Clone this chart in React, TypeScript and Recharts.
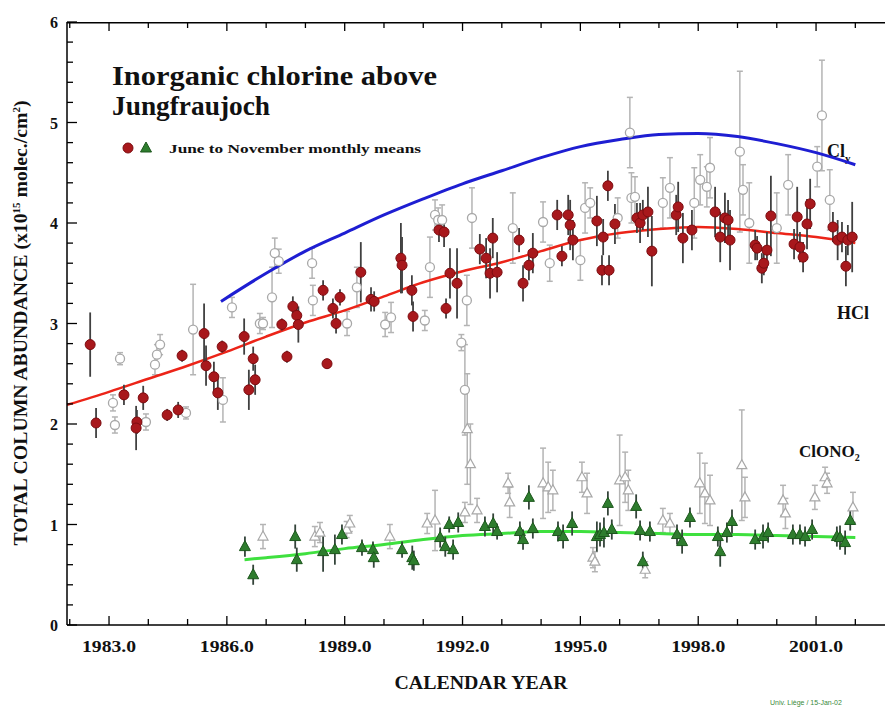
import {
  ComposedChart,
  ErrorBar,
  Line,
  Scatter,
  XAxis,
  YAxis,
} from "recharts";

// [year, column (1e15 molec/cm2), error]
const hclMeans: [number, number, number][] = [
  [1982.52, 2.79, 0.32], [1982.67, 2.01, 0.15], [1983.38, 2.29, 0.1], [1983.71, 2.02, 0.12],
  [1983.69, 1.96, 0.22], [1983.87, 2.26, 0.12], [1984.48, 2.09, 0.06], [1984.76, 2.14, 0.08],
  [1984.86, 2.68, 0.06], [1985.42, 2.9, 0.3], [1985.47, 2.58, 0.2], [1985.67, 2.47, 0.15],
  [1985.77, 2.31, 0.17], [1985.88, 2.77, 0.06], [1986.44, 2.87, 0.18], [1986.56, 2.34, 0.2],
  [1986.67, 2.65, 0.12], [1986.72, 2.44, 0.15], [1987.4, 2.99, 0.06], [1987.53, 2.67, 0.06],
  [1987.68, 3.17, 0.1], [1987.78, 3.08, 0.1], [1987.82, 2.99, 0.18], [1988.45, 3.33, 0.1],
  [1988.55, 2.6, 0.05], [1988.7, 3.15, 0.1], [1988.78, 3.0, 0.1], [1988.88, 3.26, 0.08],
  [1989.41, 3.51, 0.3], [1989.67, 3.24, 0.12], [1989.75, 3.22, 0.1], [1990.43, 3.65, 0.35],
  [1990.46, 3.58, 0.28], [1990.71, 3.33, 0.15], [1990.74, 3.07, 0.15], [1991.4, 3.93, 0.12],
  [1991.53, 3.91, 0.15], [1991.58, 3.15, 0.1], [1991.68, 3.5, 0.25], [1991.86, 3.4, 0.35],
  [1992.44, 3.74, 0.15], [1992.6, 3.65, 0.2], [1992.77, 3.85, 0.2], [1992.7, 3.5, 0.25],
  [1992.88, 3.51, 0.2], [1993.44, 3.83, 0.12], [1993.54, 3.4, 0.18], [1993.69, 3.58, 0.15],
  [1993.79, 3.7, 0.2], [1994.41, 4.08, 0.15], [1994.53, 3.67, 0.1], [1994.69, 4.08, 0.2],
  [1994.74, 3.98, 0.25], [1994.81, 3.83, 0.2], [1995.42, 4.02, 0.25], [1995.55, 3.53, 0.15],
  [1995.58, 3.86, 0.18], [1995.73, 3.53, 0.15], [1995.7, 4.37, 0.15], [1995.88, 3.99, 0.2],
  [1996.44, 4.05, 0.15], [1996.52, 4.0, 0.2], [1996.59, 4.08, 0.15], [1996.72, 4.11, 0.25],
  [1996.82, 3.72, 0.35], [1997.44, 4.08, 0.2], [1997.49, 4.16, 0.25], [1997.61, 3.85, 0.25],
  [1997.84, 3.93, 0.2], [1998.43, 4.11, 0.25], [1998.56, 3.86, 0.25], [1998.68, 4.05, 0.25],
  [1998.76, 4.03, 0.2], [1998.81, 3.83, 0.3], [1999.45, 3.78, 0.15], [1999.5, 3.75, 0.12],
  [1999.62, 3.55, 0.15], [1999.67, 3.6, 0.12], [1999.75, 3.73, 0.18], [1999.85, 4.07, 0.4],
  [2000.44, 3.79, 0.15], [2000.52, 4.06, 0.3], [2000.59, 3.76, 0.15], [2000.67, 3.66, 0.15],
  [2000.77, 3.99, 0.25], [2000.85, 4.19, 0.25], [2001.43, 3.96, 0.15], [2001.55, 3.83, 0.2],
  [2001.66, 3.86, 0.15], [2001.76, 3.57, 0.2], [2001.81, 3.83, 0.15], [2001.92, 3.86, 0.35],
];

const hclOther: [number, number, number][] = [
  [1983.1, 2.21, 0.08], [1983.15, 1.99, 0.08], [1983.28, 2.65, 0.06], [1983.94, 2.02, 0.08],
  [1984.17, 2.59, 0.1], [1984.22, 2.69, 0.1], [1984.3, 2.79, 0.1], [1984.96, 2.11, 0.06],
  [1985.14, 2.94, 0.45], [1985.9, 2.24, 0.22], [1986.13, 3.16, 0.1], [1986.84, 3.0, 0.1],
  [1986.92, 3.0, 0.06], [1987.15, 3.26, 0.3], [1987.22, 3.7, 0.15], [1987.32, 3.62, 0.12],
  [1988.17, 3.6, 0.15], [1988.19, 3.23, 0.15], [1989.06, 3.0, 0.12], [1989.31, 3.36, 0.2],
  [1990.03, 2.99, 0.12], [1990.18, 3.06, 0.15], [1991.04, 3.03, 0.1], [1991.17, 3.56, 0.3],
  [1991.3, 4.08, 0.15], [1991.38, 4.03, 0.12], [1991.48, 4.03, 0.15], [1991.97, 2.81, 0.08],
  [1992.06, 2.34, 0.45], [1992.11, 3.23, 0.25], [1992.24, 4.05, 0.3], [1993.28, 3.95, 0.35],
  [1994.05, 4.01, 0.2], [1994.22, 3.6, 0.18], [1995.0, 3.63, 0.2], [1995.12, 4.15, 0.25],
  [1995.25, 4.2, 0.15], [1995.95, 4.05, 0.2], [1996.26, 4.9, 0.35], [1996.3, 4.25, 0.25],
  [1996.39, 4.26, 0.2], [1997.1, 4.2, 0.25], [1997.28, 4.35, 0.3], [1997.9, 4.2, 0.35],
  [1998.05, 4.43, 0.25], [1998.22, 4.36, 0.2], [1998.3, 4.55, 0.3], [1999.06, 4.71, 0.8],
  [1999.14, 4.33, 0.25], [1999.3, 4.0, 0.4], [2000.0, 3.95, 0.35], [2000.29, 4.38, 0.3],
  [2001.03, 4.56, 0.2], [2001.15, 5.07, 0.55], [2001.35, 4.23, 0.3],
];

const clono2Means: [number, number, number][] = [
  [1986.46, 0.78, 0.1], [1986.67, 0.5, 0.1], [1987.74, 0.88, 0.12], [1987.78, 0.65, 0.12],
  [1988.45, 0.73, 0.2], [1988.75, 0.75, 0.15], [1988.93, 0.9, 0.1], [1989.44, 0.77, 0.08],
  [1989.72, 0.75, 0.08], [1989.74, 0.67, 0.1], [1990.46, 0.75, 0.08], [1990.72, 0.67, 0.12],
  [1990.76, 0.64, 0.1], [1991.43, 0.87, 0.1], [1991.56, 0.78, 0.1], [1991.66, 1.0, 0.08],
  [1991.76, 0.75, 0.1], [1991.89, 1.02, 0.1], [1992.57, 0.98, 0.1], [1992.78, 1.01, 0.1],
  [1992.88, 0.93, 0.08], [1993.46, 0.93, 0.1], [1993.54, 0.85, 0.1], [1993.69, 1.27, 0.12],
  [1993.79, 0.96, 0.1], [1994.43, 0.93, 0.1], [1994.56, 0.88, 0.12], [1994.79, 1.01, 0.12],
  [1995.42, 0.88, 0.15], [1995.5, 0.9, 0.12], [1995.6, 0.92, 0.15], [1995.7, 1.21, 0.12],
  [1995.8, 0.95, 0.1], [1996.42, 1.18, 0.12], [1996.52, 0.94, 0.1], [1996.59, 0.63, 0.1],
  [1996.77, 0.93, 0.1], [1997.46, 0.9, 0.1], [1997.59, 0.83, 0.12], [1997.79, 1.07, 0.1],
  [1998.5, 0.88, 0.1], [1998.56, 0.73, 0.15], [1998.73, 0.92, 0.1], [1998.86, 1.03, 0.12],
  [1999.45, 0.85, 0.1], [1999.65, 0.88, 0.12], [1999.78, 0.92, 0.1], [2000.41, 0.9, 0.1],
  [2000.59, 0.9, 0.1], [2000.72, 0.88, 0.1], [2000.9, 0.95, 0.1], [2001.53, 0.88, 0.1],
  [2001.61, 0.87, 0.12], [2001.74, 0.82, 0.12], [2001.87, 1.04, 0.1],
];

const clono2Other: [number, number, number][] = [
  [1986.92, 0.88, 0.12], [1988.24, 0.88, 0.1], [1988.37, 0.92, 0.1], [1989.05, 0.95, 0.08],
  [1989.13, 1.01, 0.08], [1990.15, 0.88, 0.12], [1991.1, 1.01, 0.1], [1991.3, 1.04, 0.3],
  [1992.06, 1.12, 0.1], [1992.12, 1.95, 0.55], [1992.2, 1.6, 0.4], [1992.37, 1.14, 0.12],
  [1993.16, 1.41, 0.1], [1993.2, 1.22, 0.15], [1994.05, 1.41, 0.35], [1994.18, 1.37, 0.25],
  [1994.3, 1.34, 0.2], [1995.04, 1.47, 0.15], [1995.17, 1.31, 0.2], [1995.32, 0.67, 0.1],
  [1995.37, 0.63, 0.1], [1996.0, 1.44, 0.45], [1996.14, 1.47, 0.25], [1996.22, 1.34, 0.2],
  [1996.65, 0.55, 0.08], [1997.1, 1.04, 0.12], [1997.28, 1.01, 0.1], [1998.04, 1.41, 0.3],
  [1998.17, 1.31, 0.3], [1998.3, 1.24, 0.25], [1999.11, 1.59, 0.55], [1999.19, 1.27, 0.2],
  [2000.16, 1.24, 0.15], [2000.22, 1.11, 0.15], [2000.97, 1.27, 0.12], [2001.23, 1.47, 0.1],
  [2001.28, 1.41, 0.1], [2001.94, 1.17, 0.15],
];

// fitted curves [year, value]
const clyFit: [number, number][] = [
  [1985.85, 3.22], [1987, 3.5], [1988, 3.72], [1989, 3.9], [1990, 4.08], [1991, 4.24],
  [1992, 4.39], [1993, 4.52], [1994, 4.65], [1995, 4.76], [1996, 4.83], [1997, 4.88],
  [1998, 4.89], [1999, 4.86], [2000, 4.79], [2001, 4.7], [2002, 4.58],
];
const hclFit: [number, number][] = [
  [1981.93, 2.19], [1983, 2.32], [1984, 2.45], [1985, 2.58], [1986, 2.72], [1987, 2.87],
  [1988, 3.01], [1989, 3.13], [1990, 3.27], [1991, 3.41], [1992, 3.52], [1993, 3.61],
  [1994, 3.72], [1995, 3.83], [1996, 3.9], [1997, 3.94], [1998, 3.96], [1999, 3.94],
  [2000, 3.9], [2001, 3.86], [2002, 3.8],
];
const clono2Fit: [number, number][] = [
  [1986.45, 0.65], [1987, 0.67], [1988, 0.71], [1989, 0.76], [1990, 0.8], [1991, 0.85],
  [1992, 0.89], [1993, 0.91], [1994, 0.93], [1995, 0.93], [1996, 0.92], [1997, 0.91],
  [1998, 0.9], [1999, 0.9], [2000, 0.89], [2001, 0.88], [2002, 0.87],
];

const X_DOMAIN: [number, number] = [1981.93, 2003.01];
const Y_MAX = 6;

const yearTicks = [
  1982, 1983, 1984, 1985, 1986, 1987, 1988, 1989, 1990, 1991, 1992, 1993, 1994, 1995,
  1996, 1997, 1998, 1999, 2000, 2001, 2002,
];
const yTicks = [
  0, 0.2, 0.4, 0.6, 0.8, 1, 1.2, 1.4, 1.6, 1.8, 2, 2.2, 2.4, 2.6, 2.8, 3, 3.2, 3.4, 3.6, 3.8,
  4, 4.2, 4.4, 4.6, 4.8, 5, 5.2, 5.4, 5.6, 5.8, 6,
];

const pts = (a: [number, number, number][]) => a.map(([x, y, e]) => ({ x, y, e }));
const line = (a: [number, number][]) => a.map(([x, y]) => ({ x, y }));

// top frame of the plot and its inward year ticks
const topFrame = X_DOMAIN.map((x) => ({ x, y: Y_MAX }));
const topTicks = yearTicks.map((x) => ({ x, y: Y_MAX }));

const FONT = '"Liberation Serif", "Times New Roman", serif';
const isMajorYear = (v: number) => Math.round(v - 1983) % 3 === 0;

const BottomTick = (props: any) => {
  const { x, y, payload } = props;
  const v = payload.value;
  const major = isMajorYear(v);
  return (
    <g>
      <line x1={x} y1={y} x2={x} y2={y - (major ? 9 : 6)} stroke="#000" strokeWidth={1.3} />
      {major && (
        <text x={x} y={y + 27} textAnchor="middle" fontFamily={FONT} fontWeight="bold" fontSize={16.5} fill="#111" textLength={54} lengthAdjust="spacingAndGlyphs">
          {v.toFixed(1)}
        </text>
      )}
    </g>
  );
};

const LeftTick = (props: any) => {
  const { x, y, payload } = props;
  const v = payload.value;
  const major = Math.abs(v - Math.round(v)) < 1e-6;
  return (
    <g>
      <line x1={x} y1={y} x2={x + (major ? 10 : 6)} y2={y} stroke="#000" strokeWidth={1.3} />
      {major && (
        <text x={x - 9} y={y + 6} textAnchor="end" fontFamily={FONT} fontWeight="bold" fontSize={16} fill="#111">
          {Math.round(v)}
        </text>
      )}
    </g>
  );
};

const TopTickMark = (p: any) => (
  <line x1={p.cx} y1={p.cy} x2={p.cx} y2={p.cy + (isMajorYear(p.payload?.x ?? p.x) ? 9 : 6)} stroke="#000" strokeWidth={1.3} />
);

const RedDot = (p: any) => <circle cx={p.cx} cy={p.cy} r={5} fill="#a8181c" stroke="#7c0c10" strokeWidth={1} />;
const GreyDot = (p: any) => <circle cx={p.cx} cy={p.cy} r={4.5} fill="#fff" stroke="#a8a8a8" strokeWidth={1.3} />;
const GreenTri = (p: any) => (
  <polygon
    points={`${p.cx},${p.cy - 6} ${p.cx - 5.5},${p.cy + 4} ${p.cx + 5.5},${p.cy + 4}`}
    fill="#2e7d2e"
    stroke="#1c561c"
    strokeWidth={1}
  />
);
const GreyTri = (p: any) => (
  <polygon
    points={`${p.cx},${p.cy - 5.5} ${p.cx - 5},${p.cy + 3.5} ${p.cx + 5},${p.cy + 3.5}`}
    fill="#fff"
    stroke="#a8a8a8"
    strokeWidth={1.2}
  />
);

const bold = { fontFamily: FONT, fontWeight: "bold" as const, fill: "#111" };

export default function App() {
  return (
    <div style={{ position: "absolute", left: 0, top: 0, width: 885, height: 710, overflow: "hidden", background: "#fff" }}>
      <ComposedChart width={900} height={710} margin={{ top: 22, right: 5, bottom: 0, left: 0 }}>
        <XAxis
          dataKey="x"
          type="number"
          domain={X_DOMAIN}
          allowDataOverflow
          ticks={yearTicks}
          tick={<BottomTick />}
          tickLine={false}
          tickSize={0}
          tickMargin={0}
          height={85}
          axisLine={{ stroke: "#000", strokeWidth: 1.5 }}
        />
        <YAxis
          dataKey="y"
          type="number"
          domain={[0, Y_MAX]}
          allowDataOverflow
          ticks={yTicks}
          tick={<LeftTick />}
          tickLine={false}
          tickSize={0}
          tickMargin={0}
          width={67}
          interval={0}
          axisLine={{ stroke: "#000", strokeWidth: 1.5 }}
        />

        <Line data={topFrame} dataKey="y" stroke="#000" strokeWidth={3} dot={false} isAnimationActive={false} />
        <Scatter data={topTicks} shape={TopTickMark} isAnimationActive={false} />

        <Scatter data={pts(hclOther)} shape={GreyDot} isAnimationActive={false}>
          <ErrorBar dataKey="e" direction="y" width={3} stroke="#b4b4b4" strokeWidth={1.5} />
        </Scatter>
        <Scatter data={pts(clono2Other)} shape={GreyTri} isAnimationActive={false}>
          <ErrorBar dataKey="e" direction="y" width={3} stroke="#b4b4b4" strokeWidth={1.5} />
        </Scatter>

        <Line data={line(clyFit)} dataKey="y" type="monotone" stroke="#1e1ed2" strokeWidth={3} dot={false} isAnimationActive={false} />
        <Line data={line(hclFit)} dataKey="y" type="monotone" stroke="#ec2418" strokeWidth={2.5} dot={false} isAnimationActive={false} />
        <Line data={line(clono2Fit)} dataKey="y" type="monotone" stroke="#3fe03f" strokeWidth={3} dot={false} isAnimationActive={false} />

        <Scatter data={pts(hclMeans)} shape={RedDot} isAnimationActive={false}>
          <ErrorBar dataKey="e" direction="y" width={0} stroke="#404040" strokeWidth={1.8} />
        </Scatter>
        <Scatter data={pts(clono2Means)} shape={GreenTri} isAnimationActive={false}>
          <ErrorBar dataKey="e" direction="y" width={0} stroke="#34443a" strokeWidth={1.8} />
        </Scatter>

        {/* title and legend */}
        <text x={112} y={85} fontSize={28} textLength={325} lengthAdjust="spacingAndGlyphs" {...bold}>Inorganic chlorine above</text>
        <text x={112} y={115} fontSize={28} textLength={158} lengthAdjust="spacingAndGlyphs" {...bold}>Jungfraujoch</text>
        <circle cx={128} cy={148} r={5} fill="#a8181c" stroke="#7c0c10" />
        <polygon points="146,142 140.5,152 151.5,152" fill="#2e7d2e" stroke="#1c561c" />
        <text x={169} y={153} fontSize={13} textLength={252} lengthAdjust="spacingAndGlyphs" {...bold}>June to November monthly means</text>

        {/* series labels */}
        <text x={827} y={157} fontSize={18} {...bold}>
          Cl<tspan fontSize={11} dy={5}>y</tspan>
        </text>
        <text x={837} y={319} fontSize={18} {...bold}>HCl</text>
        <text x={799} y={457} fontSize={17} {...bold}>
          ClONO<tspan fontSize={10} dy={4}>2</tspan>
        </text>

        {/* axis titles */}
        <text
          transform="translate(27,323) rotate(-90)"
          textAnchor="middle"
          fontSize={18}
          textLength={445}
          lengthAdjust="spacingAndGlyphs"
          {...bold}
        >
          TOTAL COLUMN ABUNDANCE (x10<tspan fontSize={10} dy={-7}>15</tspan>
          <tspan dy={7}> molec./cm</tspan>
          <tspan fontSize={10} dy={-7}>2</tspan>
          <tspan dy={7}>)</tspan>
        </text>
        <text x={481} y={689} textAnchor="middle" fontSize={19} textLength={173} lengthAdjust="spacingAndGlyphs" {...bold}>CALENDAR YEAR</text>
        <text x={770} y={705} fontSize={7} fontFamily="Arial, sans-serif" fill="#3a8a3a">Univ. Liège / 15-Jan-02</text>
      </ComposedChart>
    </div>
  );
}
